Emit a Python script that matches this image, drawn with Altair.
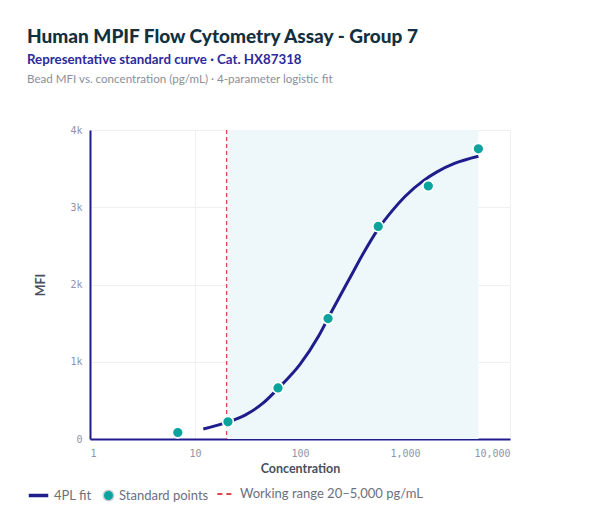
import altair as alt
import pandas as pd

# Standard points (3-fold serial dilution)
std_conc = [6.86, 20.6, 61.7, 185, 556, 1667, 5000]
std_mfi = [84, 222, 661, 1559, 2751, 3275, 3757]

# 4PL fit curve
fit_conc = [12, 20, 30, 45, 62, 100, 150, 200, 300, 400, 550, 750, 1000, 1500, 2000, 3000, 5000]
fit_mfi = [130, 215, 310, 470, 655, 965, 1330, 1650, 2090, 2400, 2710, 2950, 3140, 3345, 3455, 3570, 3660]

range_lo = [20]
range_hi = [5000]

x_ticks = [1, 10, 100, 1000, 10000]
y_ticks = [0, 1000, 2000, 3000, 4000]

LINE_LABEL = "4PL fit"
PTS_LABEL = "Standard points"
RULE_LABEL = "Working range 20\u20135,000 pg/mL"

NAVY = "#1f1d8c"
TEAL = "#0aa39d"
RED = "#e0474c"
BAND = "#eef8fa"
FONT = "Lato"
MONO = "DejaVu Sans Mono"

fit_df = pd.DataFrame({"conc": fit_conc, "mfi": fit_mfi, "series": LINE_LABEL})
std_df = pd.DataFrame({"conc": std_conc, "mfi": std_mfi, "series": PTS_LABEL})
band_df = pd.DataFrame({"lo": range_lo, "hi": range_hi, "ylo": [y_ticks[0]], "yhi": [y_ticks[-1]], "series": RULE_LABEL})

xscale = alt.Scale(type="log", domain=[x_ticks[0], x_ticks[-1]], nice=False)
yscale = alt.Scale(domain=[y_ticks[0], y_ticks[-1]], nice=False)

xaxis = alt.Axis(values=x_ticks, format=",", title="Concentration", labelPadding=9, titlePadding=4)
yaxis = alt.Axis(values=y_ticks, labelExpr="datum.value == 0 ? '0' : format(datum.value, '~s')",
                 title="MFI", labelPadding=8, titlePadding=22)

def leg(x, y, **kw):
    return alt.Legend(title=None, orient="none", legendX=x, legendY=y, labelFont=FONT,
                      labelFontSize=13, labelColor="#6b7080", labelLimit=0, **kw)

band = alt.Chart(band_df).mark_rect(color=BAND).encode(
    x=alt.X("lo:Q", scale=xscale, axis=xaxis),
    x2="hi:Q",
    y=alt.Y("ylo:Q", scale=yscale, axis=yaxis),
    y2="yhi:Q",
)

line = alt.Chart(fit_df).mark_line(strokeWidth=3, interpolate="monotone").encode(
    x=alt.X("conc:Q", scale=xscale, axis=xaxis),
    y=alt.Y("mfi:Q", scale=yscale, axis=yaxis),
    color=alt.Color("series:N", scale=alt.Scale(domain=[LINE_LABEL], range=[NAVY]),
                    legend=leg(-63, 354, symbolType="stroke", symbolStrokeWidth=3.5, symbolSize=380)),
)

pts = alt.Chart(std_df).mark_circle(size=115, opacity=1, stroke="white", strokeWidth=1.5).encode(
    x=alt.X("conc:Q", scale=xscale, axis=xaxis),
    y=alt.Y("mfi:Q", scale=yscale, axis=yaxis),
    color=alt.Color("series:N", scale=alt.Scale(domain=[PTS_LABEL], range=[TEAL]),
                    legend=leg(12, 359, symbolType="circle", symbolSize=110, symbolStrokeColor="#c9cdd6",
                               symbolStrokeWidth=1.5)),
)

rule = alt.Chart(band_df).mark_rule(strokeDash=[4, 3], strokeWidth=1.3).encode(
    x=alt.X("lo:Q", scale=xscale, axis=xaxis),
    color=alt.Color("series:N", scale=alt.Scale(domain=[RULE_LABEL], range=[RED]),
                    legend=leg(126, 354, symbolType="stroke", symbolDash=[5, 4], symbolStrokeWidth=2,
                               symbolSize=300)),
)

pts_top = alt.Chart(std_df).mark_circle(size=115, opacity=1, stroke="white", strokeWidth=1.5,
                                         color=TEAL).encode(
    x=alt.X("conc:Q", scale=xscale, axis=xaxis),
    y=alt.Y("mfi:Q", scale=yscale, axis=yaxis),
)

inner = alt.layer(band, line, pts, rule, pts_top).resolve_scale(color="independent").properties(
    width=420, height=309,
    title=alt.TitleParams("Bead MFI vs. concentration (pg/mL) \u00b7 4-parameter logistic fit",
                          anchor="start", font=FONT, fontSize=11.6, fontWeight="normal",
                          color="#8a8f9c", offset=39),
)

chart = alt.vconcat(inner).properties(
    title=alt.TitleParams("Human MPIF Flow Cytometry Assay - Group 7",
                          subtitle="Representative standard curve \u00b7 Cat. HX87318",
                          anchor="start", font=FONT, fontSize=19, fontWeight=900, color="#12303f",
                          subtitleFont=FONT, subtitleFontSize=13.3, subtitleFontWeight="bold",
                          subtitleColor="#2d2a9b", subtitlePadding=6, offset=8),
    padding={"left": 19, "top": 20, "right": 10, "bottom": 10},
).configure(background="white").configure_view(stroke=None).configure_axis(
    domainColor=NAVY, domainWidth=2, gridColor="#eef0f4", gridWidth=1, ticks=False,
    labelFont=MONO, labelFontSize=10, labelColor="#8f94a8",
    titleFont=FONT, titleFontSize=12.5, titleFontWeight="bold", titleColor="#4a4f5c",
)

chart.save("out.html", embed_options={"renderer": "svg", "actions": False})
